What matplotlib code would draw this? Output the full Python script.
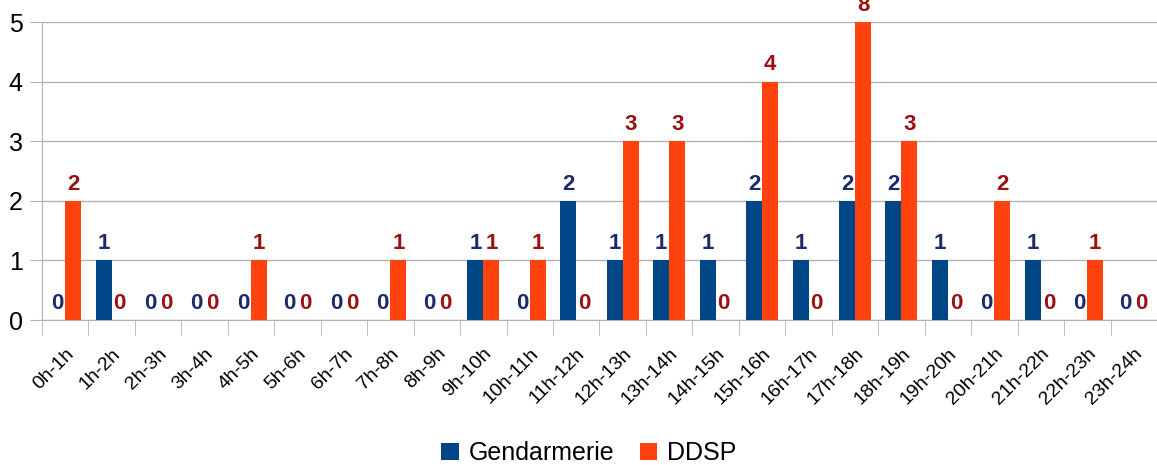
import numpy as np
import matplotlib
matplotlib.use("Agg")
import matplotlib.pyplot as plt

plt.rcParams['font.family'] = ['Liberation Sans', 'DejaVu Sans']

hours = ["0h-1h", "1h-2h", "2h-3h", "3h-4h", "4h-5h", "5h-6h", "6h-7h", "7h-8h",
         "8h-9h", "9h-10h", "10h-11h", "11h-12h", "12h-13h", "13h-14h", "14h-15h",
         "15h-16h", "16h-17h", "17h-18h", "18h-19h", "19h-20h", "20h-21h",
         "21h-22h", "22h-23h", "23h-24h"]
gendarmerie = [0, 1, 0, 0, 0, 0, 0, 0, 0, 1, 0, 2, 1, 1, 1, 2, 1, 2, 2, 1, 0, 1, 0, 0]
ddsp = [2, 0, 0, 0, 1, 0, 0, 1, 0, 1, 1, 0, 3, 3, 0, 4, 0, 8, 3, 0, 2, 0, 1, 0]

blue = "#004586"
orange = "#ff420e"
blue_txt = "#1c2a6c"
red_txt = "#9b1010"
grey = "#b3b3b3"

fig = plt.figure(figsize=(11.57, 4.65), dpi=100)
ax = fig.add_axes([42 / 1157, 1 - 320 / 465, 1 - 42 / 1157, 298 / 465])

x = np.arange(len(hours))
w = 0.344
ymax = 5
b1 = ax.bar(x - w / 2, gendarmerie, w, color=blue, label="Gendarmerie", zorder=3)
b2 = ax.bar(x + w / 2, ddsp, w, color=orange, label="DDSP", zorder=3)

# value labels, bars above the axis limit get their label at the top edge
for bars, vals, col in [(b1, gendarmerie, blue_txt), (b2, ddsp, red_txt)]:
    for r, v in zip(bars, vals):
        ax.annotate(str(v), (r.get_x() + r.get_width() / 2, min(v, ymax)),
                    xytext=(0, 8), textcoords="offset points",
                    ha="center", va="baseline", fontsize=16, fontweight="bold",
                    color=col, annotation_clip=False, clip_on=False, zorder=4)

ax.set_xlim(-0.5, len(hours) - 0.5)
ax.set_ylim(0, ymax)
ax.set_yticks(range(0, 6))
ax.tick_params(axis="y", labelsize=18, length=9, color=grey, pad=5)
ax.yaxis.grid(True, color=grey, linewidth=1, zorder=0)

ax.set_xticks(x)
ax.set_xticklabels(hours, rotation=45, ha="right", rotation_mode="anchor", fontsize=14)
ax.set_xticks(np.arange(-0.5, len(hours)), minor=True)
ax.tick_params(axis="x", which="major", length=0, pad=18)
ax.tick_params(axis="x", which="minor", length=11, color=grey)

for s in ["top", "right"]:
    ax.spines[s].set_visible(False)
for s in ["left", "bottom"]:
    ax.spines[s].set_color(grey)

fig.legend(handles=[b1, b2], loc="center", bbox_to_anchor=(0.509, 0.025), ncol=2,
           frameon=False, fontsize=18, handlelength=0.7, handleheight=0.7,
           handletextpad=0.4, columnspacing=1.0, borderpad=0)

fig.savefig("out.png", dpi=100)
